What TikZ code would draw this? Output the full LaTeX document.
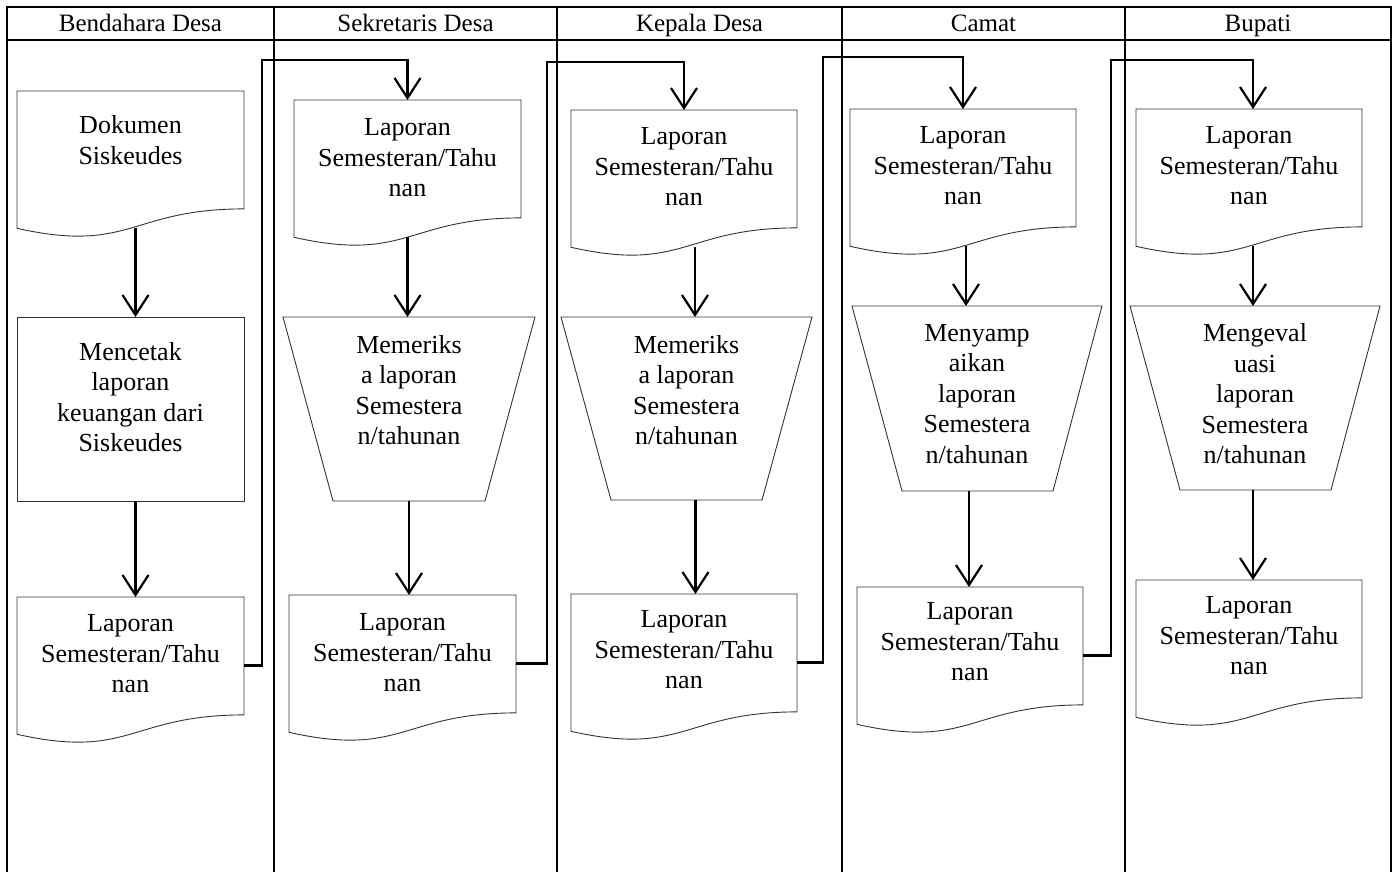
\documentclass[tikz,border=0pt]{standalone}
\usepackage{fontspec}
\setmainfont{Liberation Serif}
\usetikzlibrary{arrows.meta,calc}
\tikzset{
  lane/.style={line width=1.8pt},
  shp/.style={draw=black!80, line width=0.9pt},
  flow/.style={line width=2.2pt, -{Straight Barb[length=20pt,width=26pt,line width=2.2pt]}},
  elbow/.style={line width=2pt},
  lbl/.style={align=center, font=\fontsize{26}{30.5}\selectfont, inner sep=0},
  hdr/.style={font=\fontsize{25}{30}\selectfont, inner sep=0, anchor=base},
  box/.style={inner sep=0, outer sep=0, anchor=north west},
}
% document shape: name, left x, top y, width, height
\newcommand\docsh[5]{%
  \pgfmathsetmacro\dxa{#2+#4}\pgfmathsetmacro\dxm{#2+#4/2}%
  \pgfmathsetmacro\dyr{#3+0.802*#5}\pgfmathsetmacro\dyc{#3+1.1075*#5}%
  \pgfmathsetmacro\dyl{#3+0.934*#5}\pgfmathsetmacro\dhh{0.933*#5}%
  \node[box, minimum width=#4pt, minimum height=\dhh pt] (#1) at (#2,#3) {};
  \draw[shp] (#2,#3) -- (\dxa,#3) -- (\dxa,\dyr) .. controls (\dxm,\dyr) and (\dxm,\dyc) .. (#2,\dyl) -- cycle;
}
% trapezoid: name, top y, top x0, top x1, bottom y, bottom x0, bottom x1
\newcommand\trapsh[7]{%
  \pgfmathsetmacro\trW{#4-#3}\pgfmathsetmacro\trH{#5-#2}%
  \node[box, minimum width=\trW pt, minimum height=\trH pt] (#1) at (#3,#2) {};
  \draw[shp] (#3,#2) -- (#4,#2) -- (#7,#5) -- (#6,#5) -- cycle;
}
\begin{document}
\begin{tikzpicture}[x=1pt,y=-1pt]
\useasboundingbox (0,0) rectangle (1395,872);
% table
\draw[lane] (7,872) -- (7,7) -- (1391,7) -- (1391,872);
\draw[lane] (7,40) -- (1391,40);
\foreach \cx in {274,557,842,1125} \draw[lane] (\cx,7) -- (\cx,872);
\node[hdr] (H1) at (140.5,32) {Bendahara Desa};
\node[hdr] (H2) at (415.5,32) {Sekretaris Desa};
\node[hdr] (H3) at (699.5,32) {Kepala Desa};
\node[hdr] (H4) at (983.5,32) {Camat};
\node[hdr] (H5) at (1258,32) {Bupati};

% column 1
\docsh{D1}{17}{91}{227}{147}
\node[lbl] (D1t) at (130.5,140) {Dokumen\\Siskeudes};
\node[box, shp, minimum width=227pt, minimum height=184pt] (P1) at (17,317) {};
\node[lbl] (P1t) at (130.5,397) {Mencetak\\laporan\\keuangan dari\\Siskeudes};
\docsh{D2}{17}{597}{227}{147}
\node[lbl] (D2t) at (130.5,654) {Laporan\\Semesteran/Tahu\\nan};

% column 2
\docsh{D3}{294}{100}{227}{147}
\node[lbl] (D3t) at (407.5,158) {Laporan\\Semesteran/Tahu\\nan};
\trapsh{T1}{317}{283}{535}{501}{333}{485}
\node[lbl] (T1t) at (409,390) {Memeriks\\a laporan\\Semestera\\n/tahunan};
\docsh{D4}{289}{595}{227}{147}
\node[lbl] (D4t) at (402.5,653) {Laporan\\Semesteran/Tahu\\nan};

% column 3
\docsh{D5}{571}{110}{226}{147}
\node[lbl] (D5t) at (684,167) {Laporan\\Semesteran/Tahu\\nan};
\trapsh{T2}{317}{561}{812}{500}{611}{762}
\node[lbl] (T2t) at (686.5,390) {Memeriks\\a laporan\\Semestera\\n/tahunan};
\docsh{D6}{571}{594}{226}{147}
\node[lbl] (D6t) at (684,650) {Laporan\\Semesteran/Tahu\\nan};

% column 4
\docsh{D7}{850}{109}{226}{147}
\node[lbl] (D7t) at (963,166) {Laporan\\Semesteran/Tahu\\nan};
\trapsh{T3}{306}{852}{1102}{491}{902}{1053}
\node[lbl] (T3t) at (977,394) {Menyamp\\aikan\\laporan\\Semestera\\n/tahunan};
\docsh{D8}{857}{587}{226}{147}
\node[lbl] (D8t) at (970,642) {Laporan\\Semesteran/Tahu\\nan};

% column 5
\docsh{D9}{1136}{109}{226}{147}
\node[lbl] (D9t) at (1249,166) {Laporan\\Semesteran/Tahu\\nan};
\trapsh{T4}{306}{1130}{1380}{490}{1180}{1331}
\node[lbl] (T4t) at (1255,394) {Mengeval\\uasi\\laporan\\Semestera\\n/tahunan};
\docsh{D10}{1136}{580}{226}{147}
\node[lbl] (D10t) at (1249,636) {Laporan\\Semesteran/Tahu\\nan};

% vertical flows
\draw[flow] ([xshift=5pt]D1.south) -- ([xshift=5pt]D1.south |- P1.north);
\draw[flow] ([xshift=5pt]P1.south) -- ([xshift=5pt]P1.south |- D2.north);
\draw[flow] (D3.south) -- (D3.south |- T1.north);
\draw[flow] (T1.south) -- (T1.south |- D4.north);
\draw[flow] ([xshift=11pt]D5.south) -- ([xshift=11pt]D5.south |- T2.north);
\draw[flow] ([xshift=9pt]T2.south) -- ([xshift=9pt]T2.south |- D6.north);
\draw[flow] ([xshift=3pt]D7.south) -- ([xshift=3pt]D7.south |- T3.north);
\draw[flow] ([xshift=-8pt]T3.south) -- ([xshift=-8pt]T3.south |- D8.north);
\draw[flow] ([xshift=4pt]D9.south) -- ([xshift=4pt]D9.south |- T4.north);
\draw[flow] ([xshift=-2pt]T4.south) -- ([xshift=-2pt]T4.south |- D10.north);

% elbow connectors between lanes
\coordinate (E1) at (262,60);
\coordinate (E2) at (547,62);
\coordinate (E3) at (823,57);
\coordinate (E4) at (1111,60);
\draw[flow] (D2.east) -| (E1) -| (D3.north);
\draw[flow] (D4.east) -| (E2) -| (D5.north);
\draw[flow] (D6.east) -| (E3) -| (D7.north);
\draw[flow] (D8.east) -| (E4) -| ([xshift=4pt]D9.north);
\end{tikzpicture}
\end{document}
